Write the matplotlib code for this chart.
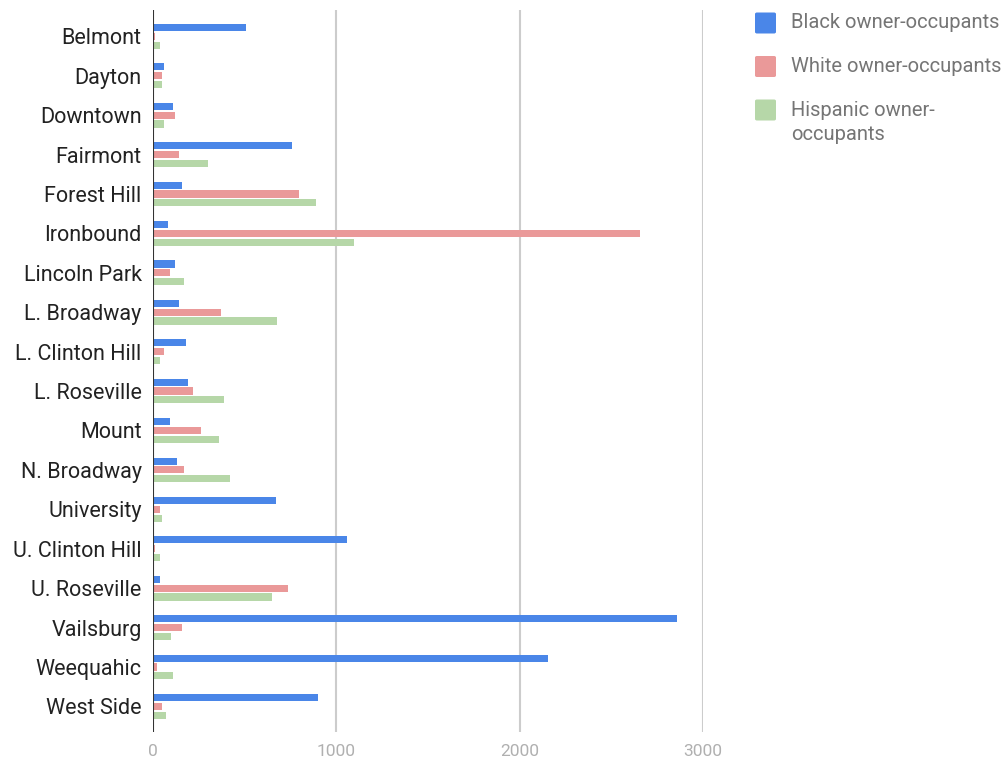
import matplotlib.pyplot as plt
import numpy as np
from matplotlib.patches import FancyBboxPatch

plt.rcParams['font.family'] = ['Roboto', 'DejaVu Sans']

neighborhoods = ['Belmont', 'Dayton', 'Downtown', 'Fairmont', 'Forest Hill', 'Ironbound',
                 'Lincoln Park', 'L. Broadway', 'L. Clinton Hill', 'L. Roseville', 'Mount',
                 'N. Broadway', 'University', 'U. Clinton Hill', 'U. Roseville', 'Vailsburg',
                 'Weequahic', 'West Side']
black = [510, 62, 112, 760, 162, 84, 122, 142, 182, 193, 93, 133, 672, 1060, 42, 2858, 2155, 900]
white = [14, 52, 122, 142, 800, 2655, 92, 370, 62, 222, 262, 172, 42, 14, 738, 162, 22, 52]
hispanic = [42, 52, 62, 302, 890, 1100, 172, 680, 42, 390, 362, 420, 52, 42, 650, 102, 112, 72]

series = [('Black owner-occupants', black, '#4a86e8'),
          ('White owner-occupants', white, '#ea9999'),
          ('Hispanic owner-\noccupants', hispanic, '#b6d7a8')]

fig = plt.figure(figsize=(10.05, 7.63), dpi=100)
ax = fig.add_axes([152.7 / 1005, 31 / 763, (703 - 152.7) / 1005, 722 / 763])

y = np.arange(len(neighborhoods))
step = 0.224
bar_h = 0.18
for k, (name, vals, color) in enumerate(series):
    ax.barh(y + (k - 1) * step, vals, height=bar_h, color=color, linewidth=0, zorder=3)

ax.set_xlim(0, 3000)
ax.set_ylim(17.65, -0.667)
ax.set_yticks(y)
ax.set_yticklabels(neighborhoods, fontsize=15.5, color='#222222')
ax.set_xticks([0, 1000, 2000, 3000])
ax.set_xticklabels(['0', '1000', '2000', '3000'], fontsize=12.5, color='#b0b0b0')
ax.tick_params(axis='y', length=0, pad=8)
ax.tick_params(axis='x', length=0, pad=9)
for s in ax.spines.values():
    s.set_visible(False)
for gx in [1000, 2000, 3000]:
    ax.axvline(gx, color='#cccccc', linewidth=1.5, zorder=1)
ax.axvline(0, color='#333333', linewidth=1.5, zorder=4)

# legend on the right
legend_y = [23, 66.5, 110]
for (name, vals, color), ly in zip(series, legend_y):
    fig.add_artist(FancyBboxPatch((755 / 1005, 1 - (ly + 10.5) / 763), 21 / 1005, 21 / 763,
                                  boxstyle='round,pad=0,rounding_size=0.002',
                                  transform=fig.transFigure, facecolor=color, edgecolor='none'))
    if '\n' in name:
        fig.text(791 / 1005, 1 - (ly - 9) / 763, name, fontsize=14.5, color='#757575',
                 va='top', ha='left', linespacing=1.35)
    else:
        fig.text(791 / 1005, 1 - ly / 763, name, fontsize=14.5, color='#757575',
                 va='center', ha='left')

fig.savefig('out.png', dpi=100)
